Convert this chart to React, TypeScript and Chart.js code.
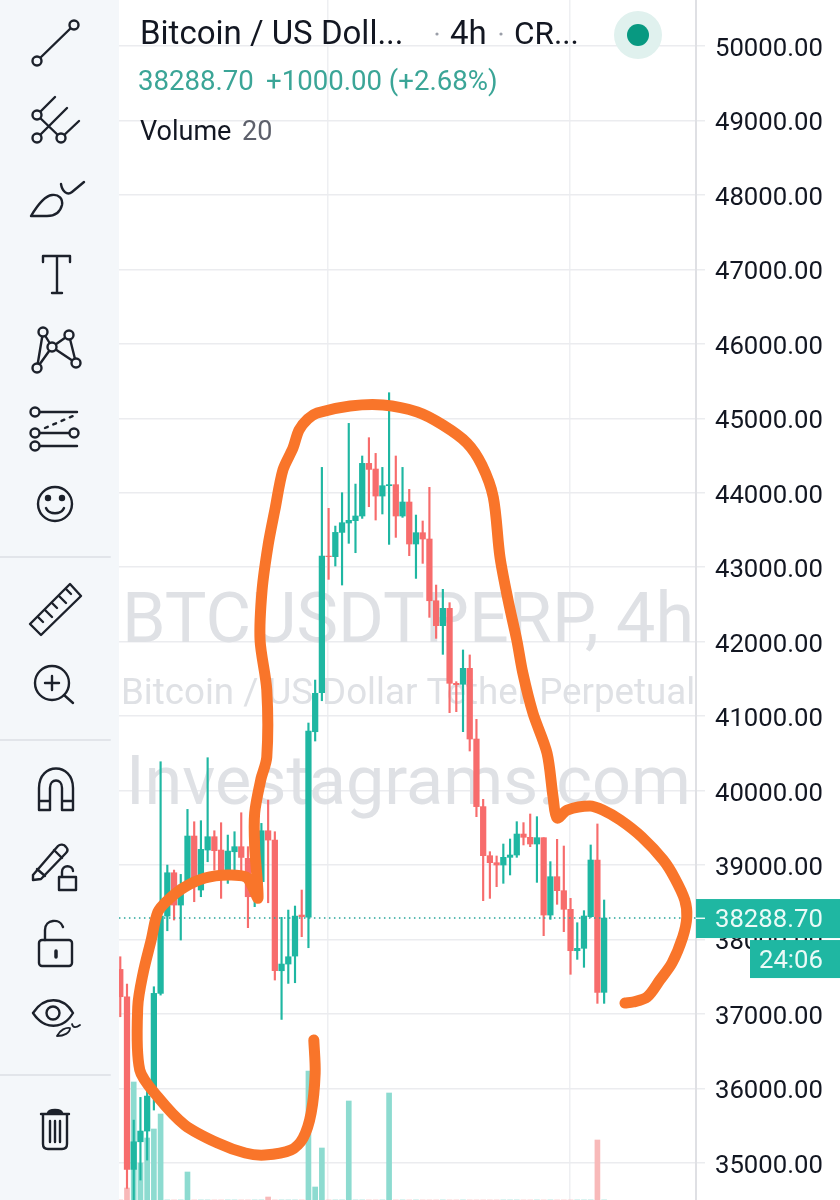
import React, { useEffect, useRef } from "react";
import { Chart, registerables } from "chart.js";

Chart.register(...registerables);

const priceTicks = [35000, 36000, 37000, 38000, 39000, 40000, 41000, 42000, 43000, 44000, 45000, 46000, 47000, 48000, 49000, 50000];
const gridCandles = [30.9, 66.85];

const opens = [37599, 37232, 34913, 35284, 35428, 35898, 37277, 38315, 38897, 38463, 38732, 39390, 38665, 39202, 39381, 39202, 38911, 39179, 39247, 39090, 38575, 38777, 39461, 39336, 37581, 37671, 37778, 38329, 38302, 40791, 41315, 43150, 43142, 43468, 43594, 43625, 43688, 44395, 44319, 43956, 44095, 44109, 43688, 43876, 43312, 43464, 43379, 42550, 42215, 42448, 41441, 41428, 41642, 40693, 39785, 39126, 39032, 39001, 39104, 39135, 39417, 39373, 39283, 39368, 38329, 38844, 38656, 38406, 37850, 37882, 38307, 39068, 37291];
const closes = [37232, 34913, 35284, 35428, 35898, 37277, 38315, 38897, 38463, 38732, 39390, 38709, 39211, 39381, 39193, 38911, 39188, 39247, 39103, 38575, 38777, 39461, 39336, 37581, 37671, 37769, 38315, 38306, 40800, 41307, 43150, 43142, 43468, 43598, 43630, 43688, 44395, 44314, 43956, 44095, 44109, 43688, 43876, 43312, 43464, 43379, 42550, 42215, 42448, 41441, 41423, 41642, 40693, 39785, 39126, 39032, 39001, 39104, 39135, 39417, 39373, 39283, 39368, 38329, 38844, 38656, 38406, 37850, 37882, 38316, 39068, 37291, 38288.7];
const highs = [37769, 37402, 35575, 35880, 35978, 37366, 40388, 39000, 38933, 38875, 39748, 39582, 39596, 40442, 39461, 39569, 39403, 39448, 39703, 39247, 39023, 39560, 39873, 39448, 38298, 38396, 38450, 38665, 40908, 41485, 44341, 43791, 43553, 44001, 44932, 44117, 44494, 44740, 44529, 44341, 45344, 44494, 44341, 44046, 43701, 43621, 44073, 42761, 42703, 42524, 41463, 41889, 41822, 40957, 39883, 39180, 39122, 39283, 39350, 39583, 39570, 39686, 39650, 39368, 39046, 39346, 39256, 38553, 38226, 38388, 39270, 39552, 38531];
const lows = [36963, 34658, 34367, 34770, 35038, 35710, 37254, 38118, 38262, 37993, 38709, 38508, 38575, 39045, 38933, 38553, 38754, 38888, 38844, 38159, 38441, 38709, 38494, 37456, 36927, 37411, 37420, 38038, 37890, 40666, 41207, 42837, 43016, 42761, 43321, 43195, 43656, 43813, 43634, 43715, 43307, 43401, 43670, 43155, 42850, 43052, 42327, 42045, 41830, 41047, 41060, 40792, 40532, 39650, 38522, 38553, 38710, 38755, 38867, 39104, 39270, 39247, 38768, 38052, 38271, 38473, 38106, 37533, 37734, 37627, 38298, 37143, 37143];
const volumes = [0, 12, 118, 37, 62, 71, 86, 0, 0, 0, 28, 0, 0, 0, 0, 0, 0, 0, 0, 0, 0, 0, 3, 0, 0, 0, 0, 0, 129, 13, 52, 0, 0, 0, 99, 0, 0, 0, 0, 0, 107, 0, 0, 0, 0, 0, 0, 0, 0, 0, 0, 0, 0, 0, 0, 0, 0, 0, 0, 0, 0, 0, 0, 0, 0, 0, 0, 0, 0, 0, 0, 60, 0];
const lastPrice = 38288.7;

const scribbleX = [28.8, 29.0, 28.4, 27.2, 25.4, 21.5, 18.6, 14.5, 9.6, 5.6, 2.9, 2.6, 3.4, 4.6, 5.6, 7.1, 9.6, 12.6, 16.0, 18.7, 19.7, 20.5, 20.0, 20.0, 20.9, 21.8, 21.8, 20.8, 21.1, 22.0, 23.0, 24.2, 25.7, 26.6, 27.9, 29.3, 34.2, 39.1, 44.2, 48.0, 51.6, 53.8, 55.5, 56.5, 57.7, 59.0, 59.9, 61.4, 63.5, 64.4, 65.0, 66.5, 69.9, 71.8, 74.4, 77.6, 80.8, 82.5, 84.0, 84.3, 83.7, 82.1, 80.3, 78.4, 76.3, 75.1];
const scribbleY = [36651, 36207, 35670, 35334, 35173, 35106, 35133, 35267, 35509, 35885, 36248, 37094, 37550, 37994, 38370, 38531, 38705, 38826, 38867, 38840, 38705, 38558, 39243, 39699, 40142, 40451, 41351, 42023, 42694, 43298, 43768, 44306, 44601, 44843, 44991, 45071, 45165, 45179, 45085, 44910, 44668, 44373, 43943, 43137, 42560, 42023, 41579, 41042, 40505, 39914, 39632, 39739, 39793, 39739, 39605, 39377, 39068, 38826, 38531, 38302, 38034, 37685, 37456, 37228, 37161, 37147];

const UP = "#1fb7a2";
const DOWN = "#f76c6c";
const UP_VOL = "#8ddbd0";
const DOWN_VOL = "#f8b9b9";
const ORANGE = "#f9752a";
const INK = "#131722";
const FONT = "Roboto";

const overlay = {
  id: "overlay",
  beforeDatasetsDraw(chart: any) {
    const c = chart.ctx;
    c.save();
    c.fillStyle = "#dfe1e5";
    c.textAlign = "left";
    c.textBaseline = "alphabetic";
    c.font = `70px ${FONT}`;
    c.fillText("BTCUSDTPERP, 4h", 122, 642);
    c.font = `36.7px ${FONT}`;
    c.fillText("Bitcoin / US Dollar Tether Perpetual", 121, 704);
    c.font = `68.3px ${FONT}`;
    c.fillText("Investagrams.com", 126, 804);
    c.restore();
  },
  afterDraw(chart: any) {
    const c = chart.ctx;
    const y = chart.scales.y.getPixelForValue(lastPrice);
    c.save();
    c.textBaseline = "alphabetic";
    c.textAlign = "left";
    c.fillStyle = UP;
    c.fillRect(696, y - 19, 144, 39);
    c.fillRect(750, y + 22, 90, 38);
    c.fillStyle = "#eafaf7";
    c.fillRect(696, y - 0.5, 9, 1.5);
    c.font = `25.7px ${FONT}`;
    c.fillText("38288.70", 715, y + 9);
    c.fillText("24:06", 759, y + 50);

    c.fillStyle = INK;
    c.font = `33px ${FONT}`;
    c.fillText("Bitcoin / US Doll...", 140, 44);
    c.fillText("4h", 450, 44);
    c.font = `31.5px ${FONT}`;
    c.fillText("CR...", 514, 44);
    c.fillStyle = "#9a9ea8";
    c.beginPath();
    c.arc(437, 34, 1.6, 0, Math.PI * 2);
    c.arc(501, 34, 1.6, 0, Math.PI * 2);
    c.fill();

    c.fillStyle = "#e0f1ee";
    c.beginPath();
    c.arc(638, 35, 24, 0, Math.PI * 2);
    c.fill();
    c.fillStyle = "#089981";
    c.beginPath();
    c.arc(638, 35, 11, 0, Math.PI * 2);
    c.fill();

    c.fillStyle = "#3ba597";
    c.font = `27.6px ${FONT}`;
    c.fillText("38288.70", 138, 90);
    c.fillText("+1000.00 (+2.68%)", 266, 90);
    c.fillStyle = INK;
    c.font = `27px ${FONT}`;
    c.fillText("Volume", 140, 140);
    c.fillStyle = "#5d606b";
    c.fillText("20", 242, 140);
    c.restore();
  },
};

function Toolbar() {
  const ring = (cx: number, cy: number, r = 4.5) => <circle key={`${cx}-${cy}`} cx={cx} cy={cy} r={r} fill="#f4f7fa" />;
  return (
    <svg
      width={119}
      height={1200}
      viewBox="0 0 119 1200"
      style={{ position: "absolute", left: 0, top: 0, background: "#f4f7fa" }}
      fill="none"
      stroke="#1c212b"
      strokeWidth={2.4}
      strokeLinecap="round"
      strokeLinejoin="round"
    >
      <path d="M0 557H110M0 740H110M0 1075H110" stroke="#e2e5ea" strokeWidth={2} />
      {/* trend line */}
      <path d="M37 61L74 25" />
      {ring(37, 61)}
      {ring(74, 25)}
      {/* pitchfork */}
      <path d="M37 115L55 97M37 115L61 138M37 138L67 108M61 138L79 121" />
      {ring(37, 115)}
      {ring(37, 138)}
      {ring(61, 138)}
      {/* brush */}
      <path d="M31 216C37 206 44 196 52 195C59 194 63 199 62 205C60 213 54 216 47 216Z" />
      <path d="M61 184C62 191 67 196 72 192L84 182" />
      {/* text */}
      <path d="M43 262V256H70V262M57 256V293M52 293H62" />
      {/* pattern */}
      <path d="M37 368L43 332L52 347L37 368M52 347L69 335L76 363L52 347" />
      {ring(43, 332)}
      {ring(69, 335)}
      {ring(52, 347)}
      {ring(37, 368)}
      {ring(76, 363)}
      {/* lines */}
      <path d="M35 412H77M35 433H74M35 446H77" />
      <path d="M45 428L73 416" strokeDasharray="3 6" />
      {ring(35, 412)}
      {ring(35, 433)}
      {ring(74, 433)}
      {ring(35, 446)}
      {/* smiley */}
      <circle cx={55} cy={504} r={17} />
      <circle cx={48} cy={498} r={2} fill="#1c212b" />
      <circle cx={62} cy={498} r={2} fill="#1c212b" />
      <path d="M46 508C49 515 61 515 64 508" />
      {/* ruler */}
      <path d="M30 624L70 584L81 596L41 635Z" />
      <path d="M38 617L43 622M45 610L52 617M52 603L57 608M59 596L66 603M66 589L71 594" />
      {/* zoom */}
      <circle cx={52} cy={683} r={17} />
      <path d="M45 683H59M52 676V690M64 695L73 703" />
      {/* magnet */}
      <path d="M39 810V788C39 762 73 762 73 788V810H62V788C62 778 50 778 50 788V810ZM39 801H50M62 801H73" />
      {/* pencil */}
      <path d="M33 875L58 846C60 844 64 844 66 847C68 849 68 851 66 853L41 879L33 880ZM37 869L45 876M54 850L62 858" />
      <path d="M59 877H76V890H59ZM62 877V872C62 864 73 865 73 871" />
      {/* lock */}
      <rect x={39} y={940} width={33} height={26} rx={3} />
      <path d="M45 940V930C45 919 60 918 63 927" />
      <path d="M56 951V957" strokeWidth={3.5} />
      {/* eye */}
      <path d="M33 1013C44 996 63 996 73 1013C63 1030 44 1030 33 1013Z" />
      <circle cx={53} cy={1013} r={6.5} />
      <path d="M57 1036C60 1030 66 1027 70 1028C70 1033 64 1036 57 1036ZM72 1024C73 1028 76 1028 80 1025" strokeWidth={1.8} />
      {/* trash */}
      <path d="M41 1114H69M43 1114V1144C43 1147 45 1149 48 1149H62C65 1149 67 1147 67 1144V1114M50 1121V1142M55 1121V1142M60 1121V1142" />
      <path d="M48 1113C49 1109 61 1109 62 1113Z" fill="#1c212b" />
    </svg>
  );
}

export default function App() {
  const ref = useRef<HTMLCanvasElement>(null);
  useEffect(() => {
    const idx = opens.map((_, i) => i);
    const chart = new Chart(ref.current as HTMLCanvasElement, {
      type: "bar",
      data: {
        datasets: [
          {
            type: "line",
            label: "Scribble",
            data: scribbleX.map((x, i) => ({ x, y: scribbleY[i] })),
            borderColor: ORANGE,
            borderWidth: 11,
            borderCapStyle: "round",
            borderJoinStyle: "round",
            pointRadius: 0,
            tension: 0.3,
            order: 0,
            clip: false,
          },
          {
            type: "line",
            label: "Last price",
            data: [
              { x: -0.2, y: lastPrice },
              { x: 85.7, y: lastPrice },
            ],
            borderColor: "#26a69a",
            borderWidth: 1.4,
            borderDash: [1.5, 3.5],
            pointRadius: 0,
            order: 1,
          },
          {
            label: "Body",
            data: idx.map((i) => ({ x: i, y: [opens[i], closes[i]] })),
            backgroundColor: idx.map((i) => (closes[i] >= opens[i] ? UP : DOWN)),
            barThickness: 5.6,
            grouped: false,
            order: 2,
          },
          {
            label: "Wick",
            data: idx.map((i) => ({ x: i, y: [lows[i], highs[i]] })),
            backgroundColor: idx.map((i) => (closes[i] >= opens[i] ? UP : DOWN)),
            barThickness: 1.5,
            grouped: false,
            order: 3,
          },
          {
            label: "Volume",
            data: idx.map((i) => ({ x: i, y: volumes[i] })),
            backgroundColor: idx.map((i) => (closes[i] >= opens[i] ? UP_VOL : DOWN_VOL)),
            barThickness: 5,
            grouped: false,
            yAxisID: "vol",
            order: 4,
          },
        ],
      } as any,
      options: {
        responsive: false,
        animation: false,
        layout: { autoPadding: false, padding: { left: 119, right: 0, top: 0, bottom: 0 } },
        plugins: { legend: { display: false }, tooltip: { enabled: false } },
        scales: {
          x: {
            type: "linear",
            min: -0.19,
            max: 85.67,
            offset: false,
            grid: { color: "#eeeff2", lineWidth: 1.5, drawTicks: false, offset: false },
            border: { display: false },
            ticks: { display: false },
            afterBuildTicks: (s: any) => {
              s.ticks = gridCandles.map((value) => ({ value }));
            },
            afterFit: (s: any) => {
              s.height = 0;
              s.paddingLeft = 0;
              s.paddingRight = 0;
            },
          },
          y: {
            position: "right",
            min: 34502,
            max: 50618,
            grid: { color: "#ebecef", lineWidth: 1.5, tickLength: 9 },
            border: { display: true, color: "#dfe0e4", width: 2 },
            ticks: {
              color: INK,
              font: { family: FONT, size: 25.7 },
              padding: 10,
              labelOffset: 3.5,
              autoSkip: false,
              callback: (v: any) => Number(v).toFixed(2),
            },
            afterBuildTicks: (s: any) => {
              s.ticks = priceTicks.map((value) => ({ value }));
            },
            afterFit: (s: any) => {
              s.width = 144;
              s.paddingTop = 0;
              s.paddingBottom = 0;
            },
          },
          vol: { display: false, min: 0, max: 1200 },
        },
      } as any,
      plugins: [overlay],
    });
    return () => chart.destroy();
  }, []);
  return (
    <div style={{ position: "absolute", left: 0, top: 0, width: 840, height: 1200, overflow: "hidden", background: "#fff" }}>
      <canvas ref={ref} width={840} height={1200} style={{ display: "block" }} />
      <Toolbar />
    </div>
  );
}
